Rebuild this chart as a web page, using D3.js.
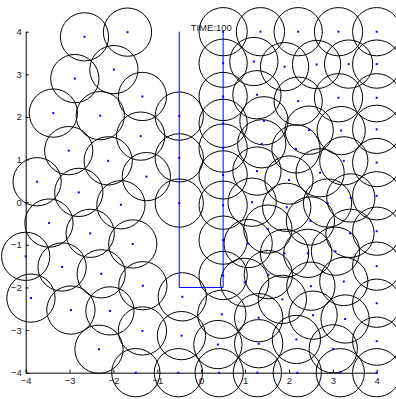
<!DOCTYPE html>
<html>
<head>
<meta charset="utf-8">
<script src="https://cdn.jsdelivr.net/npm/d3@7"></script>
<style>
  html, body { margin: 0; padding: 0; background: #fff; }
  svg { display: block; }
  text { font-family: "Liberation Sans", Arial, Helvetica, sans-serif; }
</style>
</head>
<body>
<svg id="chart" width="396" height="399"></svg>
<script>
// Agent positions (x, y) at the current time step
const agentX = [
  -2.66, -1.68, -2.88, -1.99, -1.34, -3.37, -2.30, -0.50, -1.38, -3.02,
  -2.12, -0.50, -3.74, -1.25, -2.79, -1.83, -0.50, -3.47, -2.53, -1.56,
  -4.00, -3.17, -2.28, -1.33, -3.88, -0.43, -2.97, -2.08, -1.34, -0.45,
  -2.33, -1.49, -0.52,
  0.50, 1.35, 2.21, 3.13, 4.00,
  0.50, 1.20, 1.90, 2.63, 3.36, 4.00,
  0.50, 1.27, 2.21, 3.13, 4.00,
  0.50, 1.43, 2.46, 3.19, 4.00,
  0.50, 1.38, 2.16, 3.25, 4.00,
  0.50, 1.27, 2.71, 2.00, 3.41, 4.00,
  0.50, 1.16, 1.95, 2.88, 2.49, 1.52, 3.39, 4.00,
  0.50, 1.07, 1.90, 2.43, 3.06, 4.00,
  0.50, 1.53, 0.99, 2.50, 3.25, 1.85, 4.00,
  0.47, 1.31, 2.55, 3.28, 4.00,
  0.38, 1.31, 2.17, 3.01,
  0.41, 1.28, 2.19, 3.17, 4.00
];
const agentY = [
   3.88,  3.99,  2.90,  3.11,  2.48,  2.09,  2.03,  2.02,  1.55,  1.21,
   0.97,  1.04,  0.48,  0.60,  0.23, -0.06, -0.02, -0.49, -0.73, -0.98,
  -1.27, -1.52, -1.68, -1.96, -2.25, -2.22, -2.53, -2.55, -3.02, -3.13,
  -3.45, -4.00, -4.00,
   4.00,  4.00,  4.00,  4.00,  4.00,
   3.26,  3.30,  3.18,  3.23,  3.24,  3.24,
   2.48,  2.52,  2.37,  2.45,  2.45,
   1.85,  1.91,  1.69,  1.68,  1.71,
   1.27,  1.37,  1.25,  0.97,  0.93,
   0.64,  0.73,  0.69,  0.52,  0.10,  0.15,
  -0.07,  0.00, -0.12, -0.02, -0.44, -0.63, -0.73, -0.68,
  -0.89, -0.97, -1.20, -1.20, -1.15, -1.50,
  -1.72, -1.70, -1.88, -1.97, -1.86, -2.28, -2.37,
  -2.63, -2.71, -2.65, -2.74, -3.26,
  -3.34, -3.32, -3.22, -3.44,
  -4.00, -4.00, -4.00, -4.00, -4.00
];
// Agent body radius in world units
const agentRadius = 0.55;

// Corridor walls
const wallX = [-0.5, -0.5, 0.5, 0.5];
const wallY = [4, -2, -2, 4];

// Axis ticks
const xTicks = [-4, -3, -2, -1, 0, 1, 2, 3, 4];
const yTicks = [-4, -3, -2, -1, 0, 1, 2, 3, 4];
const timeLabel = "TIME:100";

const svg = d3.select("#chart");
const x = d3.scaleLinear().domain([-4, 4]).range([25.7, 376.7]);
const y = d3.scaleLinear().domain([-4, 4]).range([372.7, 31.7]);

const agents = agentX.map((v, i) => ({ x: v, y: agentY[i] }));
const rPx = x(agentRadius) - x(0);

// Axes (MATLAB style: inward ticks, left and bottom only)
const fmt = d => d3.format("d")(d).replace("-", "\u2212");
const gx = svg.append("g")
  .attr("transform", `translate(0,${y(-4)})`)
  .call(d3.axisBottom(x).tickValues(xTicks).tickFormat(fmt)
    .tickSize(-3).tickSizeOuter(0).tickPadding(4.5));
const gy = svg.append("g")
  .attr("transform", `translate(${x(-4)},0)`)
  .call(d3.axisLeft(y).tickValues(yTicks).tickFormat(fmt)
    .tickSize(-3).tickSizeOuter(0).tickPadding(4));
[gx, gy].forEach(g => {
  g.selectAll("path, line").attr("stroke", "#000").attr("stroke-width", 1);
  g.selectAll("text").attr("fill", "#1a1a1a").attr("font-size", 9.5)
    .attr("font-family", "Liberation Sans, Arial, sans-serif");
});

// Agent bodies
svg.append("g").selectAll("circle").data(agents).join("circle")
  .attr("cx", d => x(d.x)).attr("cy", d => y(d.y)).attr("r", rPx)
  .attr("fill", "none").attr("stroke", "#000").attr("stroke-width", 1);

// Walls
svg.append("path")
  .datum(wallX.map((v, i) => [v, wallY[i]]))
  .attr("d", d3.line().x(d => x(d[0])).y(d => y(d[1])))
  .attr("fill", "none").attr("stroke", "#0000ff").attr("stroke-width", 1);

// Agent centres
svg.append("g").selectAll("rect").data(agents).join("rect")
  .attr("x", d => x(d.x) - 1).attr("y", d => y(d.y) - 1)
  .attr("width", 2).attr("height", 2).attr("fill", "#0000ff");

// Time stamp
svg.append("text")
  .attr("x", x(-0.24)).attr("y", y(4) - 0.5)
  .attr("text-anchor", "start")
  .attr("font-size", 9.5).attr("fill", "#1a1a1a")
  .text(timeLabel);
</script>
</body>
</html>
